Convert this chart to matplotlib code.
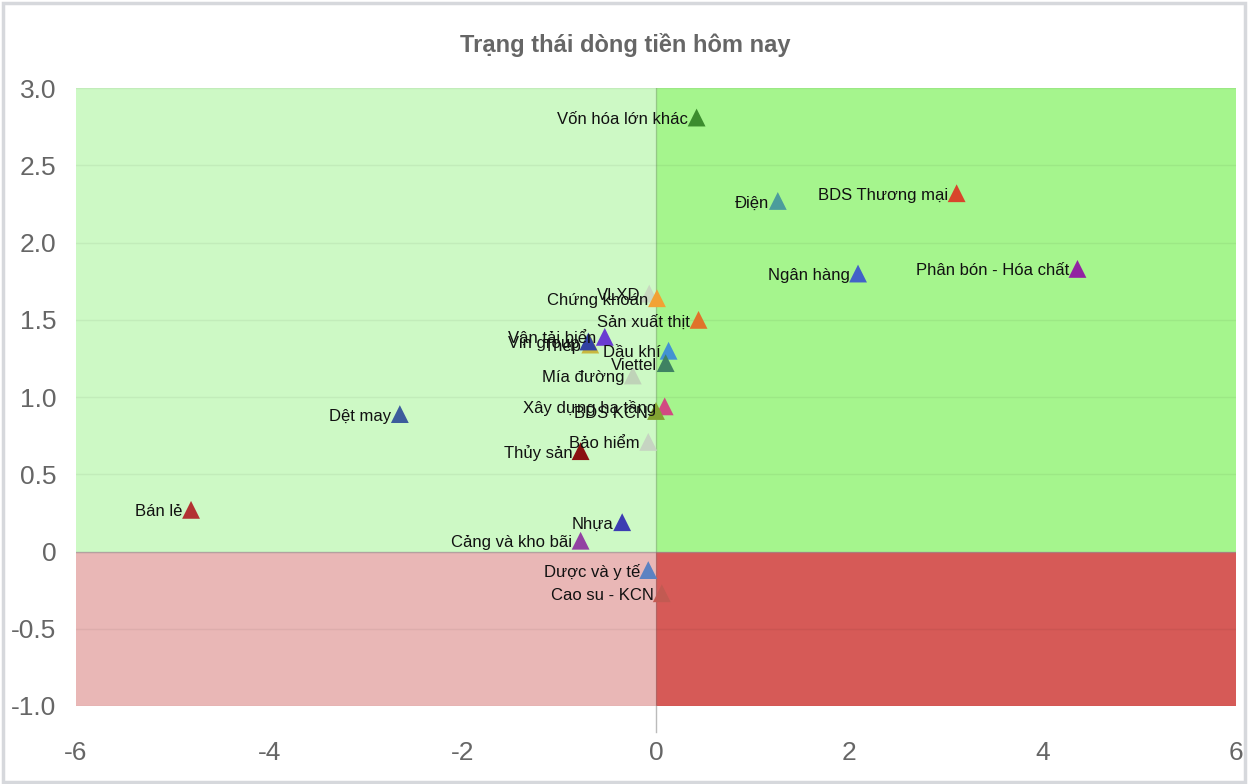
import matplotlib
matplotlib.use("Agg")
import matplotlib.pyplot as plt
from matplotlib.patches import Rectangle

names = ["Vốn hóa lớn khác", "Điện", "BDS Thương mại", "Ngân hàng", "Phân bón - Hóa chất",
         "VLXD", "Chứng khoán", "Sản xuất thịt", "Vận tải biển", "Thép", "Vin group",
         "Dầu khí", "Viettel", "Mía đường", "Xây dựng hạ tầng", "BDS KCN", "Dệt may",
         "Bảo hiểm", "Thủy sản", "Bán lẻ", "Nhựa", "Cảng và kho bãi", "Dược và y tế",
         "Cao su - KCN"]
x_vals = [0.42, 1.26, 3.11, 2.09, 4.36,
          -0.07, 0.01, 0.44, -0.53, -0.68, -0.70,
          0.13, 0.10, -0.24, 0.09, 0.00, -2.65,
          -0.08, -0.78, -4.81, -0.35, -0.78, -0.08,
          0.06]
y_vals = [2.81, 2.27, 2.32, 1.80, 1.83,
          1.67, 1.64, 1.50, 1.39, 1.34, 1.36,
          1.30, 1.22, 1.14, 0.94, 0.91, 0.89,
          0.71, 0.65, 0.27, 0.19, 0.07, -0.12,
          -0.27]
colors = ["#3c8c2e", "#4c9c9c", "#d8452b", "#4262c8", "#9222a2",
          "#c9d9c1", "#f2a234", "#e0722a", "#6a3cd2", "#c8b840", "#3242a2",
          "#4292d2", "#3f8262", "#bfd3b8", "#d24a82", "#82a232", "#3c5c9c",
          "#c6d4c2", "#8a1212", "#b23232", "#3c3cb2", "#9242a2", "#5c82c2",
          "#c25a52"]

x_ticks = [-6, -4, -2, 0, 2, 4, 6]
y_ticks = [-1.0, -0.5, 0, 0.5, 1.0, 1.5, 2.0, 2.5, 3.0]
y_tick_labels = ["-1.0", "-0.5", "0", "0.5", "1.0", "1.5", "2.0", "2.5", "3.0"]

FONT = "Liberation Sans"

fig = plt.figure(figsize=(12.5, 7.84), dpi=100)
# faint outer frame like the screenshot
fig.patches.append(Rectangle((0.002, 0.002), 0.994, 0.994, transform=fig.transFigure,
                             facecolor="none", edgecolor="#d6d8dc", lw=2.5))
ax = fig.add_axes([0.0608, 0.0995, 0.928, 0.788])
ax.set_xlim(-6, 6)
ax.set_ylim(-1, 3)

ax.add_patch(Rectangle((-6, 0), 6, 3, facecolor="#cdf9c5", edgecolor="none", zorder=0))
ax.add_patch(Rectangle((0, 0), 6, 3, facecolor="#a5f58d", edgecolor="none", zorder=0))
ax.add_patch(Rectangle((-6, -1), 6, 1, facecolor="#e9b7b6", edgecolor="none", zorder=0))
ax.add_patch(Rectangle((0, -1), 6, 1, facecolor="#d65a57", edgecolor="none", zorder=0))

for yt in y_ticks:
    ax.axhline(yt, color="#000000", alpha=0.05, lw=1, zorder=1)
ax.axhline(0, color="#999999", alpha=0.6, lw=1, zorder=1)
ax.axvline(0, color="#777777", alpha=0.35, lw=1, zorder=1)
ax.plot([0, 0], [-1, -1.17], color="#bbbbbb", lw=1, clip_on=False)

ax.scatter(x_vals, y_vals, marker="^", s=165, c=colors, zorder=3, edgecolors="none")
for n, xv, yv in zip(names, x_vals, y_vals):
    ax.annotate(n, (xv, yv), xytext=(-6, -1.5), textcoords="offset points",
                ha="right", va="center", fontsize=12, color="#111111",
                family=FONT, zorder=4)

ax.set_xticks(x_ticks)
ax.set_xticklabels([str(t) for t in x_ticks])
ax.set_yticks(y_ticks)
ax.set_yticklabels(y_tick_labels)
ax.tick_params(axis="both", length=0, labelsize=19, labelcolor="#666666")
ax.tick_params(axis="x", pad=25)
ax.tick_params(axis="y", pad=14)
for lab in ax.get_xticklabels() + ax.get_yticklabels():
    lab.set_family(FONT)
for s in ax.spines.values():
    s.set_visible(False)

fig.text(0.5, 0.942, "Trạng thái dòng tiền hôm nay", ha="center", va="center",
         fontsize=17, fontweight="bold", color="#666666", family=FONT)

fig.savefig("out.png", dpi=100)
